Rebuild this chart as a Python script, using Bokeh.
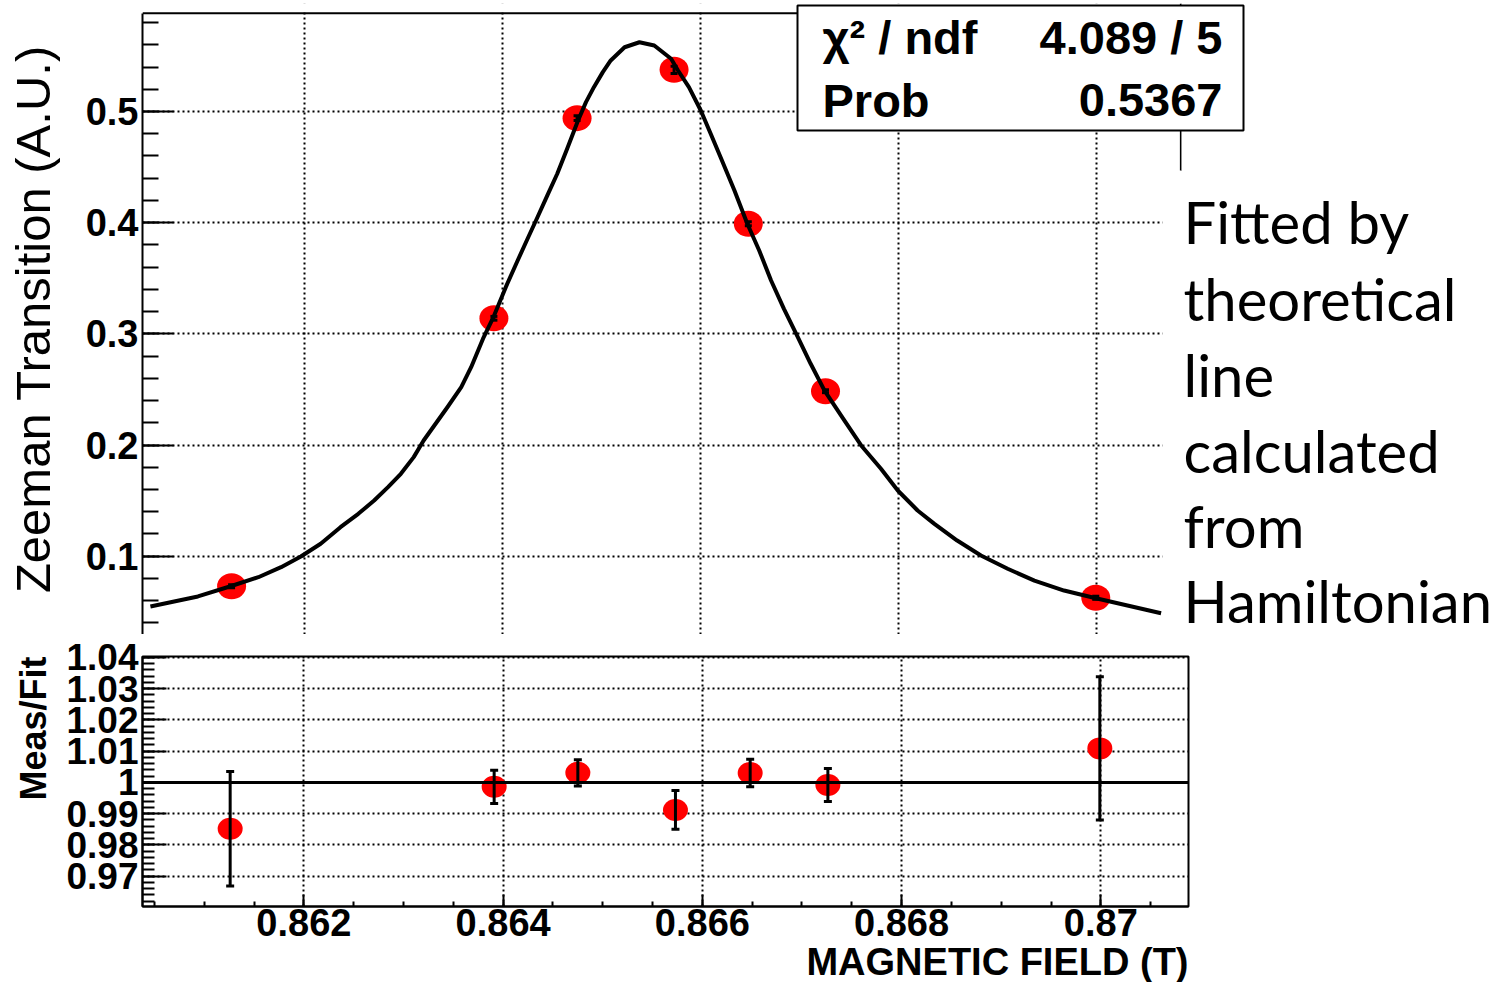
from bokeh.plotting import figure
from bokeh.layouts import column
from bokeh.models import (Range1d, FixedTicker, CustomJSTickFormatter, Span, Label,
                          BoxAnnotation, ColumnDataSource, Title)
from bokeh.embed import file_html
from bokeh.resources import INLINE

# ---------------- data ----------------
field_T = [0.86126, 0.86391, 0.86475, 0.86573, 0.86648, 0.86726, 0.86999]
transition = [0.0730, 0.3140, 0.4940, 0.5375, 0.3990, 0.2484, 0.0626]
transition_err = [0.0013, 0.0017, 0.0021, 0.0033, 0.0018, 0.0013, 0.0014]
ratio = [0.9852, 0.9986, 1.0031, 0.9912, 1.0030, 0.9992, 1.0109]
ratio_err = [0.0183, 0.0053, 0.0042, 0.0062, 0.0044, 0.0053, 0.0229]

fit_field = [0.86044, 0.86068, 0.86092, 0.86125, 0.86153, 0.86176, 0.86196, 0.86216,
             0.86236, 0.86254, 0.86270, 0.86284, 0.86297, 0.86310, 0.86320, 0.86344,
             0.86358, 0.86368, 0.86380, 0.86391, 0.86403, 0.86415, 0.86425, 0.86435,
             0.86445, 0.86455, 0.86465, 0.86476, 0.86484, 0.86492, 0.86501, 0.86509,
             0.86523, 0.86538, 0.86553, 0.86570, 0.86577, 0.86588, 0.86600, 0.86610,
             0.86620, 0.86634, 0.86647, 0.86659, 0.86671, 0.86684, 0.86698, 0.86711,
             0.86725, 0.86745, 0.86762, 0.86782, 0.86799, 0.86819, 0.86836, 0.86859,
             0.86883, 0.86910, 0.86937, 0.86967, 0.86997, 0.87031, 0.87065]
fit_value = [0.0548, 0.0593, 0.0638, 0.0730, 0.0811, 0.0901, 0.0997, 0.1112,
             0.1261, 0.1381, 0.1501, 0.1621, 0.1741, 0.1891, 0.2041, 0.2340,
             0.2520, 0.2700, 0.2956, 0.3160, 0.3420, 0.3660, 0.3855, 0.4049,
             0.4245, 0.4440, 0.4665, 0.4919, 0.5084, 0.5219, 0.5354, 0.5459,
             0.5578, 0.5623, 0.5594, 0.5474, 0.5369, 0.5219, 0.5009, 0.4799,
             0.4589, 0.4289, 0.3990, 0.3750, 0.3480, 0.3225, 0.2970, 0.2731,
             0.2490, 0.2221, 0.1996, 0.1786, 0.1591, 0.1411, 0.1291, 0.1141,
             0.1006, 0.0887, 0.0781, 0.0691, 0.0626, 0.0557, 0.0487]

ratio_ref = 1.0

x_ticks = [0.862, 0.864, 0.866, 0.868, 0.870]
y_ticks_top = [0.1, 0.2, 0.3, 0.4, 0.5]
y_ticks_ratio = [0.97, 0.98, 0.99, 1.0, 1.01, 1.02, 1.03, 1.04]

x_minor = [round(0.8605 + 0.0005 * i, 4) for i in range(21)]
y_minor_top = [round(0.04 + 0.02 * i, 2) for i in range(28)]
y_minor_ratio = [round(0.962 + 0.002 * i, 3) for i in range(40)]

stats_labels = ["\u03c7\u00b2 / ndf", "Prob"]
stats_values = ["4.089 / 5", "0.5367"]
note_lines = ["Fitted by", "theoretical", "line", "calculated", "from", "Hamiltonian"]

x_title = "MAGNETIC FIELD (T)"
y_title_top = "Zeeman Transition (A.U.)"
y_title_ratio = "Meas/Fit"

# ---------------- style / geometry ----------------
FONT = "Liberation Sans"
NOTE_FONT = "Lato"
fmt = CustomJSTickFormatter(code="return String(parseFloat(tick.toFixed(4)));")

# top panel: the drawn box spans x 0.86036..0.87085, y ..0.5884;
# the frame is larger so that the statistics box and the note sit inside it
TOP_BOX_X = (0.86036, 0.87085)
TOP_BOX_Y = (0.02957, 0.5884)
X_RANGE_TOP = (0.86036, 0.87420)
Y_RANGE_TOP = (0.02957, 0.59714)
X_RANGE_BOT = (0.86038, 0.87088)
Y_RANGE_BOT = (0.9603, 1.0403)

TOP_H = 634          # canvas height of upper panel; frame bottom sits at its bottom
STATS_FS, NOTE_FS = 47, 58


def style_axis(ax, tick_in, minor_in, size):
    ax.axis_line_width = 2
    ax.major_tick_in = tick_in
    ax.major_tick_out = 0
    ax.minor_tick_in = minor_in
    ax.minor_tick_out = 0
    ax.major_tick_line_width = 2
    ax.minor_tick_line_width = 2
    ax.major_label_text_font = FONT
    ax.major_label_text_font_style = "bold"
    ax.major_label_text_font_size = size
    ax.major_label_text_color = "black"
    ax.formatter = fmt


def style_grid(g):
    g.grid_line_color = "black"
    g.grid_line_width = 2
    g.grid_line_dash = "2 3"


def white_box(left, right, bottom, top, **kw):
    opts = dict(fill_color="white", fill_alpha=1.0, line_color=None)
    opts.update(kw)
    return BoxAnnotation(left=left, right=right, bottom=bottom, top=top,
                         left_units="screen", right_units="screen",
                         bottom_units="screen", top_units="screen", **opts)


def sy(page_y, fs=0):
    # page y of a text baseline -> frame-relative screen y of the label anchor
    return TOP_H - page_y + 0.385 * fs


# ---------------- top panel ----------------
top = figure(width=1512, height=TOP_H, frame_width=1370, frame_height=TOP_H - 3,
             output_backend="svg", toolbar_location=None,
             x_range=Range1d(*X_RANGE_TOP), y_range=Range1d(*Y_RANGE_TOP),
             min_border_left=142, min_border_right=0, min_border_top=3,
             min_border_bottom=0)
top.frame_align = False
top.outline_line_color = None
top.xaxis.visible = False
top.xgrid.ticker = FixedTicker(ticks=x_ticks)
top.yaxis.ticker = FixedTicker(ticks=y_ticks_top, minor_ticks=y_minor_top)
top.yaxis.bounds = TOP_BOX_Y
style_axis(top.yaxis[0], 31, 16, "38px")
top.yaxis.major_label_standoff = 4
top.yaxis.axis_label = y_title_top
top.yaxis.axis_label_text_font = FONT
top.yaxis.axis_label_text_font_style = "normal"
top.yaxis.axis_label_text_font_size = "49px"
top.yaxis.axis_label_text_color = "black"
top.yaxis.axis_label_standoff = 23
style_grid(top.xgrid[0])
style_grid(top.ygrid[0])

pts = ColumnDataSource(dict(
    x=field_T, y=transition,
    lo=[v - e for v, e in zip(transition, transition_err)],
    hi=[v + e for v, e in zip(transition, transition_err)]))
top.ellipse(x="x", y="y", width=29, height=26, width_units="screen",
            height_units="screen", fill_color="#ff0000", line_color=None, source=pts)
top.line(fit_field, fit_value, line_color="black", line_width=4, line_join="round")
top.segment(x0="x", y0="lo", x1="x", y1="hi", line_color="black", line_width=3, source=pts)
top.scatter(x="x", y="lo", marker="dash", size=7, line_width=3, line_color="black", source=pts)
top.scatter(x="x", y="hi", marker="dash", size=7, line_width=3, line_color="black", source=pts)

# hide grid stubs above the drawn box
top.add_layout(white_box(-2, 1038, sy(12.7) + 1, 650))
# box edges (top and right)
top.add_layout(Span(location=TOP_BOX_Y[1], dimension="width", line_color="black", line_width=2))
top.add_layout(Span(location=TOP_BOX_X[1], dimension="height", line_color="black", line_width=2))
# white area behind the note text and right of the box
top.add_layout(white_box(1020, 1400, -10, sy(170)))
top.add_layout(white_box(1039, 1400, sy(170), 650))

# statistics box
top.add_layout(white_box(655, 1101, sy(130), sy(5), line_color="black", line_alpha=1.0,
                         line_width=2))
for lab, val, yb in zip(stats_labels, stats_values, [55, 118]):
    top.add_layout(Label(x=680, y=sy(yb, STATS_FS), x_units="screen", y_units="screen",
                         text=lab, text_font=FONT, text_font_style="bold",
                         text_font_size=f"{STATS_FS}px", text_align="left",
                         text_baseline="alphabetic", text_color="black"))
    top.add_layout(Label(x=1080, y=sy(yb, STATS_FS), x_units="screen", y_units="screen",
                         text=val, text_font=FONT, text_font_style="bold",
                         text_font_size=f"{STATS_FS}px", text_align="right",
                         text_baseline="alphabetic", text_color="black"))

for line_txt, yb in zip(note_lines, [243, 320, 396, 472, 547, 622]):
    top.add_layout(Label(x=1041, y=sy(yb, NOTE_FS), x_units="screen", y_units="screen",
                         text=line_txt, text_font=NOTE_FONT,
                         text_font_size=f"{NOTE_FS}px", text_align="left",
                         text_baseline="alphabetic", text_color="black"))

# ---------------- ratio panel ----------------
BOT_H = 982 - TOP_H
BOT_TOP = 656 - TOP_H
bot = figure(width=1200, height=BOT_H, frame_width=1046, frame_height=250,
             output_backend="svg", toolbar_location=None,
             x_range=Range1d(*X_RANGE_BOT), y_range=Range1d(*Y_RANGE_BOT),
             min_border_left=142, min_border_right=12, min_border_top=BOT_TOP,
             min_border_bottom=BOT_H - 250 - BOT_TOP)
bot.frame_align = False
bot.outline_line_color = "black"
bot.outline_line_width = 2
bot.xaxis.ticker = FixedTicker(ticks=x_ticks, minor_ticks=x_minor)
bot.yaxis.ticker = FixedTicker(ticks=y_ticks_ratio, minor_ticks=y_minor_ratio)
style_axis(bot.xaxis[0], 12, 5, "38px")
style_axis(bot.yaxis[0], 24, 12, "37px")
bot.xaxis.major_label_standoff = 2
bot.yaxis.major_label_standoff = 4
style_grid(bot.xgrid[0])
style_grid(bot.ygrid[0])

rsrc = ColumnDataSource(dict(
    x=field_T, y=ratio,
    lo=[v - e for v, e in zip(ratio, ratio_err)],
    hi=[v + e for v, e in zip(ratio, ratio_err)]))
bot.ellipse(x="x", y="y", width=25, height=22, width_units="screen",
            height_units="screen", fill_color="#ff0000", line_color=None, source=rsrc)
bot.segment(x0="x", y0="lo", x1="x", y1="hi", line_color="black", line_width=3, source=rsrc)
bot.scatter(x="x", y="lo", marker="dash", size=8, line_width=3, line_color="black", source=rsrc)
bot.scatter(x="x", y="hi", marker="dash", size=8, line_width=3, line_color="black", source=rsrc)
bot.add_layout(Span(location=ratio_ref, dimension="width", line_color="black", line_width=3))

bot.add_layout(Title(text=x_title, align="right", text_font=FONT, text_font_style="bold",
                     text_font_size="38px", text_color="black", standoff=0), "below")
bot.add_layout(Title(text=y_title_ratio, align="right", text_font=FONT,
                     text_font_style="bold", text_font_size="36px", text_color="black",
                     standoff=20), "left")

layout = column(top, bot)
open("out.html", "w").write(file_html(layout, INLINE))
